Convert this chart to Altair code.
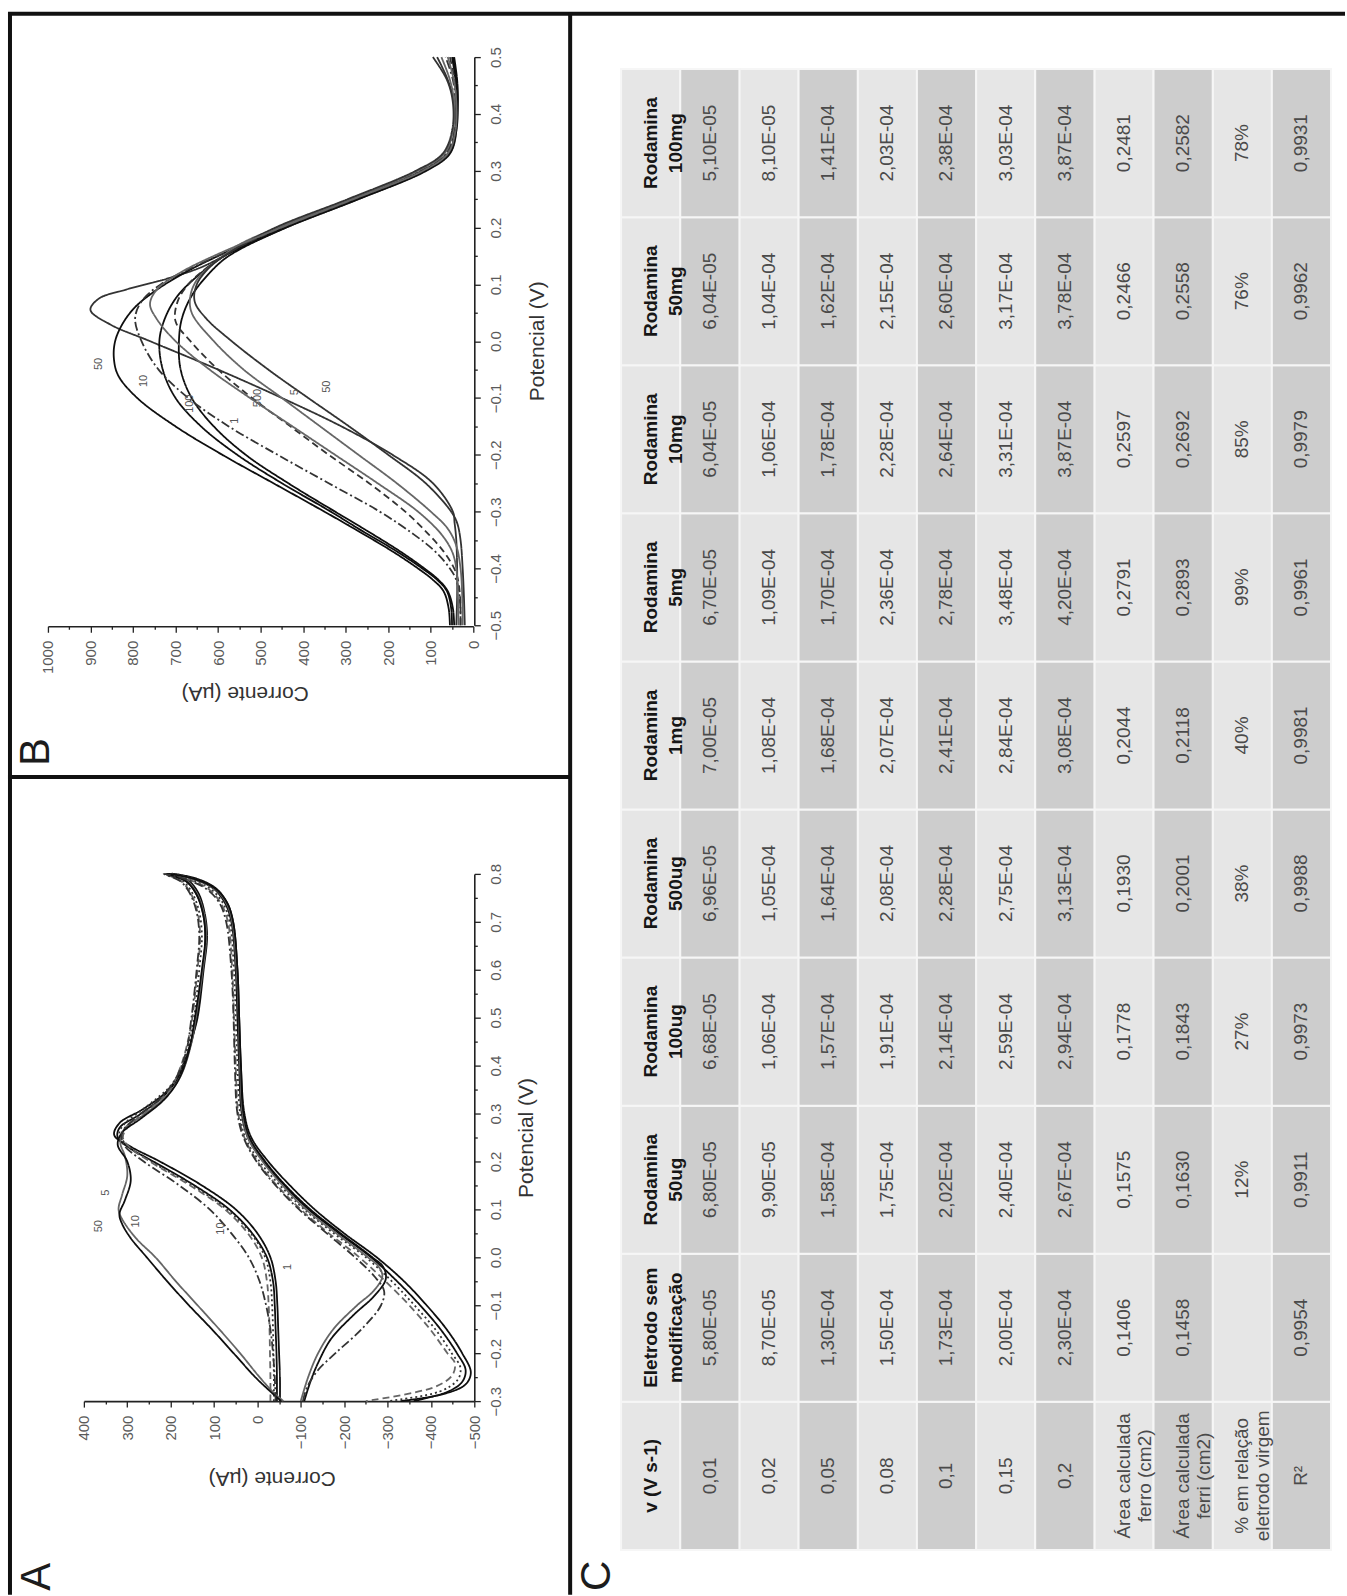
import altair as alt
import pandas as pd

FONT = "Liberation Sans"
INK = "#111111"

# ---------------------------------------------------------------------------
# Panel B - peak voltammograms, points are (potential / V, current / uA)
# ---------------------------------------------------------------------------
B_SHARP = [(-0.5, 40), (-0.45, 38), (-0.4, 38), (-0.35, 40), (-0.32, 44), (-0.3, 48), (-0.25, 95),
           (-0.2, 190), (-0.15, 310), (-0.1, 450), (-0.05, 600), (0.0, 760), (0.03, 855), (0.055, 900),
           (0.075, 880), (0.09, 820), (0.11, 720), (0.13, 640), (0.16, 560), (0.2, 440), (0.25, 270),
           (0.3, 110), (0.33, 55), (0.37, 40), (0.42, 45), (0.46, 60), (0.5, 85)]
B_BROAD = [(-0.5, 55), (-0.47, 58), (-0.44, 70), (-0.42, 95), (-0.4, 130), (-0.37, 190), (-0.33, 280),
           (-0.3, 350), (-0.25, 470), (-0.2, 590), (-0.15, 700), (-0.1, 790), (-0.06, 835), (-0.03, 845),
           (0.0, 842), (0.03, 825), (0.06, 795), (0.09, 745), (0.12, 680), (0.15, 600), (0.2, 450),
           (0.25, 280), (0.3, 120), (0.33, 60), (0.37, 42), (0.42, 40), (0.46, 42), (0.5, 50)]
B_MID1 = [(-0.5, 50), (-0.47, 52), (-0.44, 62), (-0.42, 85), (-0.4, 120), (-0.37, 180), (-0.33, 270),
          (-0.3, 335), (-0.25, 450), (-0.2, 555), (-0.15, 640), (-0.1, 700), (-0.05, 730), (0.0, 738),
          (0.04, 725), (0.08, 695), (0.12, 640), (0.15, 585), (0.2, 445), (0.25, 275), (0.3, 115),
          (0.33, 58), (0.37, 42), (0.42, 38), (0.46, 40), (0.5, 48)]
B_MID2 = [(-0.5, 45), (-0.47, 48), (-0.44, 60), (-0.42, 82), (-0.4, 115), (-0.37, 172), (-0.33, 258),
          (-0.3, 325), (-0.25, 435), (-0.2, 535), (-0.15, 610), (-0.1, 662), (-0.05, 688), (0.0, 692),
          (0.04, 685), (0.08, 662), (0.12, 620), (0.15, 575), (0.2, 440), (0.25, 270), (0.3, 112),
          (0.33, 56), (0.37, 40), (0.42, 36), (0.46, 38), (0.5, 45)]
B_DASHDOT = [(-0.5, 30), (-0.45, 32), (-0.42, 40), (-0.4, 55), (-0.37, 90), (-0.34, 140), (-0.3, 220),
             (-0.25, 340), (-0.2, 460), (-0.15, 575), (-0.1, 670), (-0.05, 740), (0.0, 780), (0.04, 795),
             (0.07, 780), (0.1, 735), (0.13, 660), (0.16, 570), (0.2, 455), (0.25, 285), (0.3, 125),
             (0.33, 65), (0.37, 45), (0.42, 42), (0.46, 48), (0.5, 65)]
B_DASHED = [(-0.5, 30), (-0.45, 31), (-0.42, 36), (-0.4, 45), (-0.37, 70), (-0.34, 105), (-0.3, 160),
            (-0.25, 245), (-0.2, 340), (-0.15, 430), (-0.1, 520), (-0.05, 600), (0.0, 665), (0.035, 700),
            (0.07, 695), (0.1, 670), (0.13, 625), (0.16, 565), (0.2, 450), (0.25, 280), (0.3, 120),
            (0.33, 62), (0.37, 44), (0.42, 40), (0.46, 44), (0.5, 55)]
B_LOW1 = [(-0.5, 25), (-0.45, 26), (-0.4, 30), (-0.36, 40), (-0.33, 60), (-0.3, 100), (-0.25, 180),
          (-0.2, 270), (-0.15, 360), (-0.1, 450), (-0.05, 540), (0.0, 610), (0.05, 662), (0.08, 665),
          (0.11, 648), (0.14, 605), (0.17, 550), (0.2, 460), (0.25, 290), (0.3, 130), (0.33, 68),
          (0.37, 48), (0.42, 45), (0.46, 55), (0.5, 75)]
B_LOW2 = [(-0.5, 20), (-0.45, 22), (-0.4, 25), (-0.35, 30), (-0.32, 38), (-0.3, 52), (-0.25, 112),
          (-0.2, 200), (-0.15, 292), (-0.1, 388), (-0.05, 482), (0.0, 568), (0.04, 628), (0.07, 655),
          (0.1, 650), (0.13, 620), (0.16, 565), (0.2, 465), (0.25, 295), (0.3, 135), (0.33, 72),
          (0.37, 50), (0.42, 48), (0.46, 62), (0.5, 95)]
B_UPPER = [(-0.5, 35), (-0.45, 36), (-0.4, 40), (-0.37, 50), (-0.34, 75), (-0.3, 130), (-0.25, 225),
           (-0.2, 325), (-0.15, 425), (-0.1, 525), (-0.05, 620), (0.0, 700), (0.04, 745), (0.065, 760),
           (0.09, 745), (0.12, 690), (0.15, 610), (0.2, 452), (0.25, 282), (0.3, 118), (0.33, 60),
           (0.37, 42), (0.42, 40), (0.46, 46), (0.5, 60)]

B_CURVES = [
    ("b_sharp", B_SHARP, "solid", "d"),
    ("b_broad", B_BROAD, "solid", "k"),
    ("b_mid1", B_MID1, "solid", "k"),
    ("b_mid2", B_MID2, "solid", "k"),
    ("b_dashdot", B_DASHDOT, "dashdot", "d"),
    ("b_dashed", B_DASHED, "dash", "d"),
    ("b_low1", B_LOW1, "solid", "g"),
    ("b_low2", B_LOW2, "solid", "d"),
    ("b_upper", B_UPPER, "solid", "g"),
]

B_TAGS = ["50", "10", "100", "1", "500", "5", "50"]
B_TAG_E = [-0.04, -0.07, -0.11, -0.14, -0.10, -0.09, -0.08]
B_TAG_I = [880, 775, 665, 560, 505, 420, 345]

B_I_TICKS = [0, 50, 100, 150, 200, 250, 300, 350, 400, 450, 500, 550, 600, 650, 700, 750, 800, 850,
             900, 950, 1000]
B_E_TICKS = [-0.5, -0.45, -0.4, -0.35, -0.3, -0.25, -0.2, -0.15, -0.1, -0.05, 0.0, 0.05, 0.1, 0.15,
             0.2, 0.25, 0.3, 0.35, 0.4, 0.45, 0.5]

# ---------------------------------------------------------------------------
# Panel A - cyclic voltammograms (forward scan then reverse scan)
# ---------------------------------------------------------------------------
A_CV1 = [(-0.3, -45), (-0.25, -45), (-0.2, -44), (-0.15, -42), (-0.1, -40), (-0.05, -36), (0.0, -22),
         (0.05, 12), (0.1, 65), (0.15, 145), (0.2, 240), (0.23, 298), (0.25, 322), (0.27, 318),
         (0.3, 268), (0.34, 212), (0.38, 180), (0.44, 155), (0.5, 140), (0.6, 126), (0.67, 120),
         (0.72, 126), (0.76, 142), (0.785, 165), (0.8, 205),
         (0.79, 150), (0.77, 102), (0.74, 75), (0.7, 60), (0.6, 50), (0.5, 46), (0.4, 42), (0.3, 36),
         (0.25, 22), (0.2, -14), (0.15, -62), (0.1, -118), (0.05, -188), (0.0, -262), (-0.05, -322),
         (-0.1, -375), (-0.15, -422), (-0.2, -460), (-0.235, -480), (-0.26, -472), (-0.28, -440),
         (-0.3, -360)]
A_CV2 = [(-0.3, -52), (-0.25, -52), (-0.2, -50), (-0.15, -48), (-0.1, -46), (-0.05, -42), (0.0, -30),
         (0.05, 0), (0.1, 50), (0.15, 128), (0.2, 225), (0.23, 290), (0.255, 330), (0.28, 318),
         (0.31, 262), (0.35, 205), (0.4, 172), (0.46, 150), (0.5, 138), (0.6, 124), (0.67, 116),
         (0.72, 122), (0.76, 136), (0.785, 158), (0.8, 198),
         (0.79, 140), (0.77, 96), (0.74, 70), (0.7, 56), (0.6, 46), (0.5, 42), (0.4, 38), (0.3, 30),
         (0.25, 14), (0.2, -25), (0.15, -75), (0.1, -132), (0.05, -200), (0.0, -275), (-0.05, -338),
         (-0.1, -390), (-0.15, -436), (-0.2, -472), (-0.24, -492), (-0.265, -480), (-0.285, -430),
         (-0.3, -330)]
A_CV3 = [(-0.3, -38), (-0.25, -38), (-0.2, -37), (-0.15, -36), (-0.1, -34), (-0.05, -30), (0.0, -18),
         (0.05, 15), (0.1, 70), (0.15, 150), (0.2, 245), (0.235, 302), (0.26, 318), (0.28, 305),
         (0.32, 248), (0.36, 198), (0.4, 172), (0.46, 154), (0.5, 146), (0.6, 134), (0.67, 128),
         (0.72, 134), (0.76, 150), (0.785, 172), (0.8, 212),
         (0.79, 160), (0.77, 110), (0.74, 80), (0.7, 64), (0.6, 54), (0.5, 50), (0.4, 46), (0.3, 40),
         (0.25, 28), (0.2, -5), (0.15, -52), (0.1, -108), (0.05, -176), (0.0, -250), (-0.05, -310),
         (-0.1, -362), (-0.15, -410), (-0.2, -448), (-0.23, -468), (-0.255, -462), (-0.28, -420),
         (-0.3, -300)]
A_CV4 = [(-0.3, -30), (-0.25, -30), (-0.2, -29), (-0.15, -28), (-0.1, -26), (-0.05, -22), (0.0, -10),
         (0.05, 22), (0.1, 75), (0.15, 155), (0.2, 248), (0.23, 295), (0.25, 310), (0.27, 300),
         (0.31, 248), (0.35, 202), (0.4, 176), (0.46, 158), (0.5, 150), (0.6, 138), (0.67, 132),
         (0.72, 138), (0.76, 154), (0.785, 176), (0.8, 214),
         (0.79, 165), (0.77, 115), (0.74, 85), (0.7, 68), (0.6, 58), (0.5, 54), (0.4, 50), (0.3, 44),
         (0.25, 30), (0.2, 0), (0.15, -45), (0.1, -100), (0.05, -165), (0.0, -235), (-0.05, -295),
         (-0.1, -350), (-0.15, -398), (-0.2, -438), (-0.22, -455), (-0.245, -450), (-0.27, -410),
         (-0.3, -250)]
A_CV5 = [(-0.3, -60), (-0.28, -35), (-0.25, -5), (-0.2, 40), (-0.15, 88), (-0.1, 138), (-0.05, 188),
         (0.0, 235), (0.04, 280), (0.08, 312), (0.1, 320), (0.13, 312), (0.17, 300), (0.21, 305),
         (0.24, 316), (0.27, 305), (0.3, 258), (0.34, 206), (0.38, 176), (0.44, 154), (0.5, 142),
         (0.6, 126), (0.67, 118), (0.72, 124), (0.76, 140), (0.785, 162), (0.8, 204),
         (0.79, 150), (0.77, 100), (0.74, 72), (0.7, 58), (0.6, 48), (0.5, 43), (0.4, 40), (0.3, 34),
         (0.25, 22), (0.2, -12), (0.15, -58), (0.1, -112), (0.05, -182), (0.0, -255), (-0.02, -280),
         (-0.04, -288), (-0.07, -268), (-0.1, -230), (-0.15, -175), (-0.2, -140), (-0.25, -117),
         (-0.3, -100)]
A_CV6 = [(-0.3, -55), (-0.28, -30), (-0.25, 5), (-0.2, 55), (-0.15, 105), (-0.1, 158), (-0.05, 208),
         (0.0, 255), (0.04, 292), (0.07, 312), (0.09, 318), (0.12, 305), (0.16, 292), (0.2, 300),
         (0.235, 322), (0.26, 312), (0.29, 268), (0.33, 214), (0.37, 182), (0.43, 158), (0.5, 144),
         (0.6, 128), (0.67, 120), (0.72, 126), (0.76, 142), (0.785, 165), (0.8, 208),
         (0.79, 148), (0.77, 98), (0.74, 70), (0.7, 56), (0.6, 46), (0.5, 42), (0.4, 38), (0.3, 32),
         (0.25, 18), (0.2, -18), (0.15, -65), (0.1, -122), (0.05, -192), (0.0, -265), (-0.02, -290),
         (-0.045, -296), (-0.08, -270), (-0.12, -222), (-0.17, -170), (-0.22, -140), (-0.26, -122),
         (-0.3, -108)]
A_CV7 = [(-0.3, -42), (-0.25, -40), (-0.2, -36), (-0.15, -30), (-0.1, -20), (-0.05, -5), (0.0, 20),
         (0.05, 60), (0.1, 110), (0.15, 180), (0.2, 262), (0.235, 308), (0.26, 312), (0.29, 282),
         (0.33, 226), (0.37, 190), (0.43, 164), (0.5, 152), (0.6, 140), (0.67, 134), (0.72, 140),
         (0.76, 156), (0.785, 178), (0.8, 216),
         (0.79, 170), (0.77, 120), (0.74, 88), (0.7, 72), (0.6, 60), (0.5, 55), (0.4, 52), (0.3, 46),
         (0.25, 32), (0.2, 2), (0.15, -42), (0.1, -96), (0.05, -160), (0.0, -225), (-0.04, -270),
         (-0.07, -292), (-0.1, -285), (-0.15, -240), (-0.2, -180), (-0.235, -140), (-0.27, -115),
         (-0.3, -105)]

A_CURVES = [
    ("a_cv1", A_CV1, "solid", "k"),
    ("a_cv2", A_CV2, "solid", "k"),
    ("a_cv3", A_CV3, "dot", "d"),
    ("a_cv4", A_CV4, "dash", "g"),
    ("a_cv5", A_CV5, "solid", "g"),
    ("a_cv6", A_CV6, "solid", "k"),
    ("a_cv7", A_CV7, "dashdot", "d"),
]

A_TAGS = ["50", "5", "10", "10", "1"]
A_TAG_E = [0.065, 0.135, 0.075, 0.06, -0.02]
A_TAG_I = [365, 350, 280, 85, -70]

A_I_TICKS = [-500, -450, -400, -350, -300, -250, -200, -150, -100, -50, 0, 50, 100, 150, 200, 250,
             300, 350, 400]
A_E_TICKS = [-0.3, -0.25, -0.2, -0.15, -0.1, -0.05, 0.0, 0.05, 0.1, 0.15, 0.2, 0.25, 0.3, 0.35, 0.4,
             0.45, 0.5, 0.55, 0.6, 0.65, 0.7, 0.75, 0.8]

# ---------------------------------------------------------------------------
# Panel C - table (one list per electrode, in scan-rate order)
# ---------------------------------------------------------------------------
HEADERS = ["v (V s-1)", "Eletrodo sem\nmodificação", "Rodamina\n50ug", "Rodamina\n100ug",
           "Rodamina\n500ug", "Rodamina\n1mg", "Rodamina\n5mg", "Rodamina\n10mg", "Rodamina\n50mg",
           "Rodamina\n100mg"]
V_ROW = ["0,01", "0,02", "0,05", "0,08", "0,1", "0,15", "0,2", "Área calculada\nferro (cm2)",
         "Área calculada\nferri (cm2)", "% em relação\neletrodo virgem", "R²"]
ELETRODO = ["5,80E-05", "8,70E-05", "1,30E-04", "1,50E-04", "1,73E-04", "2,00E-04", "2,30E-04",
            "0,1406", "0,1458", "", "0,9954"]
ROD_50UG = ["6,80E-05", "9,90E-05", "1,58E-04", "1,75E-04", "2,02E-04", "2,40E-04", "2,67E-04",
            "0,1575", "0,1630", "12%", "0,9911"]
ROD_100UG = ["6,68E-05", "1,06E-04", "1,57E-04", "1,91E-04", "2,14E-04", "2,59E-04", "2,94E-04",
             "0,1778", "0,1843", "27%", "0,9973"]
ROD_500UG = ["6,96E-05", "1,05E-04", "1,64E-04", "2,08E-04", "2,28E-04", "2,75E-04", "3,13E-04",
             "0,1930", "0,2001", "38%", "0,9988"]
ROD_1MG = ["7,00E-05", "1,08E-04", "1,68E-04", "2,07E-04", "2,41E-04", "2,84E-04", "3,08E-04",
           "0,2044", "0,2118", "40%", "0,9981"]
ROD_5MG = ["6,70E-05", "1,09E-04", "1,70E-04", "2,36E-04", "2,78E-04", "3,48E-04", "4,20E-04",
           "0,2791", "0,2893", "99%", "0,9961"]
ROD_10MG = ["6,04E-05", "1,06E-04", "1,78E-04", "2,28E-04", "2,64E-04", "3,31E-04", "3,87E-04",
            "0,2597", "0,2692", "85%", "0,9979"]
ROD_50MG = ["6,04E-05", "1,04E-04", "1,62E-04", "2,15E-04", "2,60E-04", "3,17E-04", "3,78E-04",
            "0,2466", "0,2558", "76%", "0,9962"]
ROD_100MG = ["5,10E-05", "8,10E-05", "1,41E-04", "2,03E-04", "2,38E-04", "3,03E-04", "3,87E-04",
             "0,2481", "0,2582", "78%", "0,9931"]
TABLE_ROWS = [V_ROW, ELETRODO, ROD_50UG, ROD_100UG, ROD_500UG, ROD_1MG, ROD_5MG, ROD_10MG,
              ROD_50MG, ROD_100MG]

# ---------------------------------------------------------------------------
# Layout (pixels): a 2x2 grid, B over A on the left, the table on the right
# ---------------------------------------------------------------------------
LEFT_W, TOP_H, BOTTOM_H = 571, 777, 819
RIGHT_W = 776

ONE = pd.DataFrame({"k": [0]})

DASH_SCALE = alt.Scale(domain=["solid", "dash", "dot", "dashdot"],
                       range=[[1, 0], [7, 4], [2, 3], [9, 3, 2, 3]])
SHADE_SCALE = alt.Scale(domain=["k", "d", "g"], range=["#0e0e0e", "#333333", "#666666"])


def line_frame(curves):
    rows = []
    for name, pts, dash, shade in curves:
        for k, (e, i) in enumerate(pts):
            rows.append({"curve": name, "k": k, "E": e, "I": i, "dash": dash, "shade": shade})
    return pd.DataFrame(rows)


def current_axis(ticks, offset, title_x, title_y):
    major = "datum.value % 100 == 0"
    return alt.Axis(
        values=ticks, format="d", labelExpr=f"{major} ? datum.label : ''",
        orient="bottom", offset=offset, grid=False,
        labelAngle=270, labelAlign="right", labelBaseline="middle", labelPadding=8,
        labelFont=FONT, labelFontSize=15, labelColor="#5a5a5a",
        labelFlush=False, labelOverlap=False,
        tickSize={"condition": {"test": major, "value": 6}, "value": 3},
        tickColor="#222222", tickWidth=1.3, domainColor="#222222", domainWidth=1.6,
        title="Corrente (µA)", titleAngle=180, titleFont=FONT, titleFontSize=21,
        titleFontWeight="normal", titleColor="#333333", titleX=title_x, titleY=title_y,
        titleAlign="center", titleBaseline="middle",
    )


def potential_axis(ticks, offset, title_x, title_y):
    major = "abs(round(datum.value * 100)) % 10 == 0"
    return alt.Axis(
        values=ticks, format=".1f", labelExpr=f"{major} ? datum.label : ''",
        orient="right", offset=offset, grid=False,
        labelAngle=270, labelAlign="center", labelBaseline="top", labelPadding=8,
        labelFont=FONT, labelFontSize=15, labelColor="#5a5a5a",
        labelFlush=False, labelOverlap=False,
        tickSize={"condition": {"test": major, "value": 6}, "value": 3},
        tickColor="#222222", tickWidth=1.3, domainColor="#222222", domainWidth=1.6,
        title="Potencial (V)", titleAngle=270, titleFont=FONT, titleFontSize=21,
        titleFontWeight="normal", titleColor="#333333", titleX=title_x, titleY=title_y,
        titleAlign="center", titleBaseline="middle",
    )


def panel_letter(letter, x, y):
    return alt.Chart(ONE).mark_text(
        text=letter, angle=270, font=FONT, fontSize=42, color="#1c1c1c",
        align="center", baseline="middle",
    ).encode(x=alt.value(x), y=alt.value(y))


def voltammogram(curves, tags, tag_e, tag_i, x_enc, y_enc):
    df = line_frame(curves)
    lines = alt.Chart(df).mark_line(interpolate="catmull-rom", strokeWidth=1.8).encode(
        x=x_enc, y=y_enc, detail="curve:N", order="k:Q",
        color=alt.Color("shade:N", scale=SHADE_SCALE, legend=None),
        strokeDash=alt.StrokeDash("dash:N", scale=DASH_SCALE, legend=None),
    )
    tag_df = pd.DataFrame({"t": tags, "E": tag_e, "I": tag_i})
    tag_marks = alt.Chart(tag_df).mark_text(
        angle=270, font=FONT, fontSize=11, color="#555555"
    ).encode(x=x_enc, y=y_enc, text="t:N")
    return lines, tag_marks


# ---- panel B ----
b_x = alt.X("I:Q", scale=alt.Scale(domain=[0, 1000], range=[474, 48], nice=False, zero=False),
            axis=current_axis(B_I_TICKS, 626 - TOP_H, 245, 66))
b_y = alt.Y("E:Q", scale=alt.Scale(domain=[-0.5, 0.5], range=[625, 56], nice=False, zero=False),
            axis=potential_axis(B_E_TICKS, 475 - LEFT_W, 63, 340))
b_lines, b_tags = voltammogram(B_CURVES, B_TAGS, B_TAG_E, B_TAG_I, b_x, b_y)

# frame lines of the whole figure (drawn from the top-left cell)
frame = [
    alt.Chart(ONE).mark_rule(color=INK, strokeWidth=4).encode(
        x=alt.value(8), x2=alt.value(1347), y=alt.value(12.5)),
    alt.Chart(ONE).mark_rule(color=INK, strokeWidth=4).encode(
        x=alt.value(10), y=alt.value(11), y2=alt.value(1596)),
    alt.Chart(ONE).mark_rule(color=INK, strokeWidth=4).encode(
        x=alt.value(571), y=alt.value(11), y2=alt.value(1596)),
    alt.Chart(ONE).mark_rule(color=INK, strokeWidth=4).encode(
        x=alt.value(8), x2=alt.value(571), y=alt.value(777)),
]

b_chart = alt.layer(b_lines, b_tags, *frame, panel_letter("B", 36, 752)).properties(
    width=LEFT_W, height=TOP_H)

# ---- panel A ----
a_x = alt.X("I:Q", scale=alt.Scale(domain=[-500, 400], range=[475, 84], nice=False, zero=False),
            axis=current_axis(A_I_TICKS, 625 - BOTTOM_H, 272, 76))
a_y = alt.Y("E:Q", scale=alt.Scale(domain=[-0.3, 0.8], range=[625, 97], nice=False, zero=False),
            axis=potential_axis(A_E_TICKS, 475 - LEFT_W, 52, 361))
a_lines, a_tags = voltammogram(A_CURVES, A_TAGS, A_TAG_E, A_TAG_I, a_x, a_y)
a_chart = alt.layer(a_lines, a_tags, panel_letter("A", 37, 801)).properties(
    width=LEFT_W, height=BOTTOM_H)

# ---- panel C: table (drawn from the top-right cell, running into the cell below) ----
cells = []
for ri, (head, values) in enumerate(zip(HEADERS, TABLE_ROWS)):
    for ci, txt in enumerate([head] + values):
        cells.append({"r": ri, "c": ci, "txt": txt, "head": ci == 0, "dark": ci % 2 == 1})
cell_df = pd.DataFrame(cells)

t_x = alt.Scale(domain=[0, 12], range=[51, 762], nice=False, zero=False)
t_y = alt.Scale(domain=[0, 10], range=[1551, 68], nice=False, zero=False)

t_base = alt.Chart(cell_df).transform_calculate(
    c1="datum.c + 1", r1="datum.r + 1", cm="datum.c + 0.5", rm="datum.r + 0.5")


def cell_rects(test, fill):
    return t_base.transform_filter(test).mark_rect(
        fill=fill, stroke="#f6f6f6", strokeWidth=2
    ).encode(
        x=alt.X("c:Q", scale=t_x, axis=None), x2="c1:Q",
        y=alt.Y("r:Q", scale=t_y, axis=None), y2="r1:Q",
    )


t_light = cell_rects("!datum.dark", "#e6e6e6")
t_dark = cell_rects("datum.dark", "#cdcdcd")
t_head = t_base.transform_filter("datum.head").mark_text(
    angle=270, align="center", baseline="middle", lineBreak="\n", lineHeight=25,
    font=FONT, fontSize=19, fontWeight="bold", color="#161616",
).encode(x=alt.X("cm:Q", scale=t_x, axis=None), y=alt.Y("rm:Q", scale=t_y, axis=None), text="txt:N")
t_body = t_base.transform_filter("!datum.head").mark_text(
    angle=270, align="center", baseline="middle", lineBreak="\n", lineHeight=21,
    font=FONT, fontSize=19, color="#4a4a4a",
).encode(x=alt.X("cm:Q", scale=t_x, axis=None), y=alt.Y("rm:Q", scale=t_y, axis=None), text="txt:N")

c_top = alt.layer(t_light, t_dark, t_head, t_body).properties(width=RIGHT_W, height=TOP_H)
c_bottom = alt.layer(panel_letter("C", 27, 800)).properties(width=RIGHT_W, height=BOTTOM_H)

chart = alt.concat(
    b_chart, c_top, a_chart, c_bottom, columns=2, spacing=0, bounds="flush", align="each"
).properties(padding=0, background="white").configure_view(strokeWidth=0)

chart.save("out.html", embed_options={"renderer": "svg", "actions": False})
